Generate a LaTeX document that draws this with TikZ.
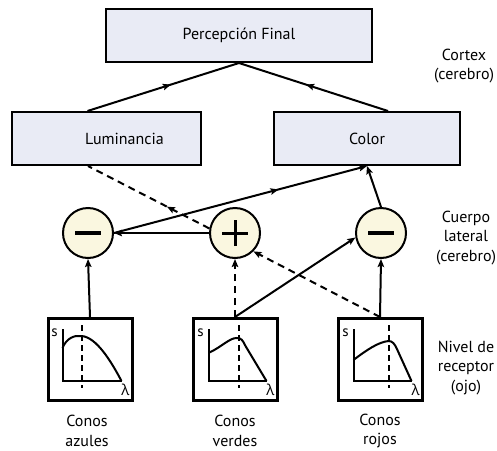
\documentclass[tikz,border=0pt]{standalone}
\usepackage{fontspec}
\setmainfont{PT Sans}
\newfontfamily\greekfont{Open Sans}
\usetikzlibrary{arrows.meta,decorations.markings}
\definecolor{boxfill}{HTML}{E9EBF5}
\definecolor{cellfill}{HTML}{FAF7E0}
\tikzset{
  tip/.style={-{Stealth[length=8pt,width=6.5pt,inset=1.5pt]}},
  conn/.style={line width=2pt},
  dashconn/.style={line width=2pt,dash pattern=on 7pt off 5pt},
  midtip/.style={postaction={decorate},decoration={markings,
    mark=at position #1 with {\arrow{Stealth[length=8pt,width=6.5pt,inset=1.5pt]}}}},
  levelbox/.style={draw,line width=2pt,fill=boxfill,minimum height=53pt,
    font=\fontsize{16}{19.5}\selectfont,inner sep=0pt},
  cell/.style={circle,draw,line width=2pt,fill=cellfill,minimum size=50pt,inner sep=0pt},
  conebox/.style={draw,line width=3pt,minimum width=84pt,minimum height=82pt,inner sep=0pt},
  sidelabel/.style={align=center,font=\fontsize{16}{19.5}\selectfont,inner sep=0pt},
  axislabel/.style={font=\fontsize{15}{17}\selectfont,inner sep=0pt},
  axis/.style={line width=2pt},
  curve/.style={line width=2pt},
  peak/.style={line width=2pt,dash pattern=on 6pt off 4pt},
}
\begin{document}
\begin{tikzpicture}[x=1pt,y=-1pt]
\useasboundingbox (0,0) rectangle (497,450);

% cortex level
\node[levelbox,minimum width=266pt] (perc) at (239,35.5) {Percepción Final};
\node[levelbox,minimum width=189pt,anchor=west] (lum) at (11,138.5) {\hspace*{36pt}Luminancia\hfill};
\node[levelbox,minimum width=186pt] (col) at (367,138.5) {Color};

% lateral body cells
\node[cell] (cL) at (88,233) {};
\node[cell] (cM) at (235,233) {};
\node[cell] (cR) at (381,233) {};
\draw[line width=3.5pt] ([xshift=-13pt]cL.center) -- ([xshift=13pt]cL.center);
\draw[line width=3.5pt] ([xshift=-13pt]cR.center) -- ([xshift=13pt]cR.center);
\draw[line width=3pt] ([xshift=-13pt]cM.center) -- ([xshift=13pt]cM.center);
\draw[line width=3pt] ([yshift=-13pt]cM.center) -- ([yshift=13pt]cM.center);

% receptor boxes
\node[conebox] (bB) at (90,359.5) {};
\node[conebox] (bG) at (235,359.5) {};
\node[conebox] (bR) at (380,359.5) {};

% sensitivity curves
\begin{scope}[shift={(bB.north west)}]
  \draw[axis] (16,12) -- (16,64) -- (75,64);
  \node[axislabel] at (8,16) {s};
  \node[axislabel] at (79,73) {\greekfont λ};
  \draw[peak] (35,8) -- (35,71);
  \draw[curve] (16,31) .. controls (20,21) and (28,18) .. (35,19)
    .. controls (50,20) and (65,45) .. (75,64);
\end{scope}
\begin{scope}[shift={(bG.north west)}]
  \draw[axis] (17,12) -- (17,64) -- (75,64);
  \node[axislabel] at (9,16) {s};
  \node[axislabel] at (79,73) {\greekfont λ};
  \draw[peak] (47,8) -- (47,71);
  \draw[curve] (17,36) .. controls (30,30) and (38,21) .. (45,21)
    .. controls (50,21) and (51,23) .. (54,29) -- (75,64);
\end{scope}
\begin{scope}[shift={(bR.north west)}]
  \draw[axis] (17,12) -- (17,64) -- (75,64);
  \node[axislabel] at (9,16) {s};
  \node[axislabel] at (79,73) {\greekfont λ};
  \draw[peak] (52,8) -- (52,71);
  \draw[curve] (17,43) .. controls (30,33) and (42,25) .. (52,24)
    .. controls (56,24) and (58,27) .. (60,31) -- (75,64);
\end{scope}

% level labels
\node[sidelabel] at (464,66) {Cortex\\(cerebro)};
\node[sidelabel] at (466,238) {Cuerpo\\lateral\\(cerebro)};
\node[sidelabel] at (466,368) {Nivel de\\receptor\\(ojo)};
\node[sidelabel] at (87,431) {Conos\\azules};
\node[sidelabel] at (235,431) {Conos\\verdes};
\node[sidelabel] at (380,431) {Conos\\rojos};

% connectors
\draw[conn,midtip=0.55] ([xshift=-19pt]lum.north) -- (perc.south);
\draw[conn,midtip=0.55] ([xshift=21pt]col.north) -- (perc.south);
\draw[conn,tip,midtip=0.65] (cL.east) -- (col.south);
\draw[conn,tip] (cR.north) -- (col.south);
\draw[conn,tip] (cM.west) -- (cL.east);
\draw[dashconn,midtip=0.35] (cM.170) -- ([xshift=-18.5pt]lum.south);
\draw[conn,tip] (bB.north) -- (cL.south);
\draw[dashconn,tip] (bG.north) -- (cM.south);
\draw[conn,tip] (bR.north) -- (cR.south);
\draw[conn,tip] (bG.north) -- (cR.190);
\draw[dashconn,tip] (bR.north) -- (cM.-45);
\end{tikzpicture}
\end{document}
